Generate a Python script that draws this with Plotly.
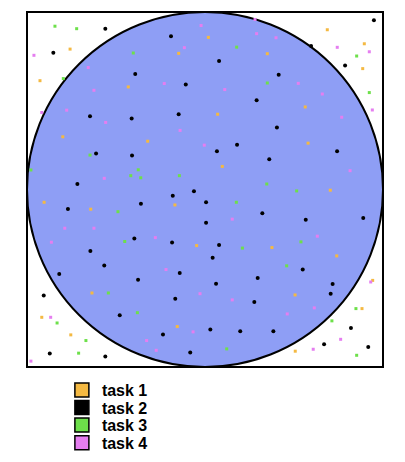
import plotly.graph_objects as go

# Monte Carlo sample points in the square [-1, 1] x [-1, 1]
task1_x = [-0.758, -0.927, -0.799, 0.019, -0.148, -0.431, 0.071, -0.322, 0.350, 0.563,
           0.687, 0.895, 0.886, 0.579, 0.097, -0.904, -0.642, -0.169, -0.047, -0.635,
           -0.917, -0.754, -0.156, 0.704, 0.376, 0.740, 0.506, 0.942, 0.882, 0.507]
task1_y = [0.791, 0.613, 0.297, 0.857, 0.767, 0.578, 0.424, 0.272, 0.765, 0.465,
           0.900, 0.821, 0.681, 0.261, 0.130, -0.072, -0.111, -0.087, -0.316, -0.583,
           -0.720, -0.819, -0.772, -0.004, -0.327, -0.374, -0.594, -0.512, -0.671, -0.911]

task2_x = [-0.560, -0.852, -0.646, -0.412, -0.612, -0.410, -0.717, -0.191, 0.079, -0.392,
           -0.108, -0.148, 0.067, 0.414, 0.290, 0.404, 0.596, 0.949, 0.787, 0.180,
           0.742, 0.361, -0.770, -0.360, -0.181, -0.062, 0.006, 0.006, -0.397, -0.185,
           0.079, -0.644, 0.043, -0.566, -0.819, -0.142, -0.376, 0.062, -0.906, -0.167,
           -0.479, 0.030, -0.236, -0.083, -0.872, -0.560, 0.322, 0.566, 0.889, 0.549,
           0.296, 0.717, 0.706, 0.277, 0.820, 0.917, 0.669, 0.198, 0.384]
task2_y = [0.906, 0.771, 0.413, 0.400, 0.203, 0.192, 0.031, 0.864, 0.724, 0.651,
           0.591, 0.424, 0.215, 0.647, 0.503, 0.349, 0.808, 0.954, 0.699, 0.252,
           0.215, 0.171, -0.110, -0.080, -0.035, -0.010, -0.072, -0.187, -0.276, -0.299,
           -0.313, -0.347, -0.385, -0.428, -0.476, -0.471, -0.508, -0.531, -0.597, -0.615,
           -0.709, -0.789, -0.817, -0.919, -0.924, -0.941, -0.134, -0.171, -0.160, -0.451,
           -0.499, -0.533, -0.587, -0.634, -0.780, -0.887, -0.872, -0.799, -0.799]

task3_x = [-0.843, -0.721, -0.796, -0.646, -0.978, -0.375, -0.417, -0.361, -0.144, -0.403,
           0.178, 0.350, 0.852, 0.923, 0.347, -0.489, -0.451, -0.543, -0.380, -0.831,
           -0.669, -0.710, 0.515, 0.176, 0.210, 0.539, 0.459, 0.848, 0.713, 0.852, 0.122]
task3_y = [0.920, 0.906, 0.625, 0.194, 0.110, 0.111, 0.078, 0.066, 0.078, 0.769,
           0.802, 0.600, 0.752, 0.546, 0.031, -0.125, -0.293, -0.583, -0.694, -0.752,
           -0.851, -0.922, -0.008, -0.072, -0.330, -0.295, -0.430, -0.671, -0.740, -0.934, -0.898]

task4_x = [-0.961, -0.656, -0.624, -0.917, -0.777, -0.558, -0.566, -0.022, -0.116, -0.229,
           -0.140, -0.004, 0.281, 0.290, 0.399, 0.524, 0.111, 0.659, 0.768, 0.743,
           0.923, 0.940, 0.815, -0.788, -0.624, -0.863, -0.279, -0.219, -0.028, -0.867,
           -0.067, -0.328, -0.274, -0.978, 0.153, 0.631, 0.153, 0.614, 0.462, 0.931,
           0.762, 0.608]
task4_y = [0.756, 0.687, 0.559, 0.434, 0.447, 0.378, 0.063, 0.924, 0.799, 0.597,
           0.333, 0.250, 0.958, 0.878, 0.855, 0.598, 0.563, 0.538, 0.407, 0.801,
           0.776, 0.448, 0.106, -0.218, -0.218, -0.297, -0.271, -0.451, -0.587, -0.720,
           -0.802, -0.851, -0.906, -0.967, -0.167, -0.263, -0.622, -0.667, -0.701, -0.521,
           -0.844, -0.900]

task_names = ["task 1", "task 2", "task 3", "task 4"]
task_colors = ["#f4b942", "#000000", "#6de04a", "#e57ef0"]
series = [(task1_x, task1_y), (task2_x, task2_y), (task3_x, task3_y), (task4_x, task4_y)]

fig = go.Figure()

for (xs, ys), name, color in zip(series, task_names, task_colors):
    is_black = color == "#000000"
    fig.add_trace(go.Scatter(
        x=xs, y=ys, mode="markers", name=name, showlegend=False,
        marker=dict(symbol="circle" if is_black else "square",
                    size=4 if is_black else 3, color=color, line=dict(width=0)),
        hoverinfo="skip",
    ))

legend_ids = ["legend", "legend2", "legend3", "legend4"]
for name, color, lid in zip(task_names, task_colors, legend_ids):
    fig.add_trace(go.Scatter(
        x=[None], y=[None], mode="markers", name=name, legend=lid,
        marker=dict(symbol="square", size=14, color=color,
                    line=dict(width=1.5, color="#000000")),
    ))

fig.add_shape(type="circle", xref="x", yref="y", x0=-1, y0=-1, x1=1, y1=1,
              fillcolor="#8e9ef5", line=dict(color="#000000", width=2), layer="below")
fig.add_shape(type="rect", xref="paper", yref="paper", x0=0, y0=0, x1=1, y1=1,
              line=dict(color="#000000", width=2), layer="above")

fig.update_xaxes(range=[-1, 1], showgrid=False, zeroline=False, showticklabels=False,
                 ticks="", showline=False, fixedrange=True)
fig.update_yaxes(range=[-1, 1], showgrid=False, zeroline=False, showticklabels=False,
                 ticks="", showline=False, fixedrange=True)

legend_font = dict(family="Liberation Sans, Arial, sans-serif", size=16,
                   color="#000000", weight="bold")
legend_rows_y = [-0.065, -0.1145, -0.164, -0.2135]
legend_cfg = {}
for lid, ly in zip(legend_ids, legend_rows_y):
    legend_cfg[lid] = dict(x=0.098, y=ly, xanchor="left", yanchor="middle",
                           font=legend_font, itemsizing="trace",
                           bgcolor="rgba(0,0,0,0)", borderwidth=0)

fig.update_layout(
    width=405, height=462,
    margin=dict(l=27, r=22, t=12, b=95, autoexpand=False),
    paper_bgcolor="white", plot_bgcolor="white",
    showlegend=True,
    **legend_cfg,
)

fig.write_html("out.html")
